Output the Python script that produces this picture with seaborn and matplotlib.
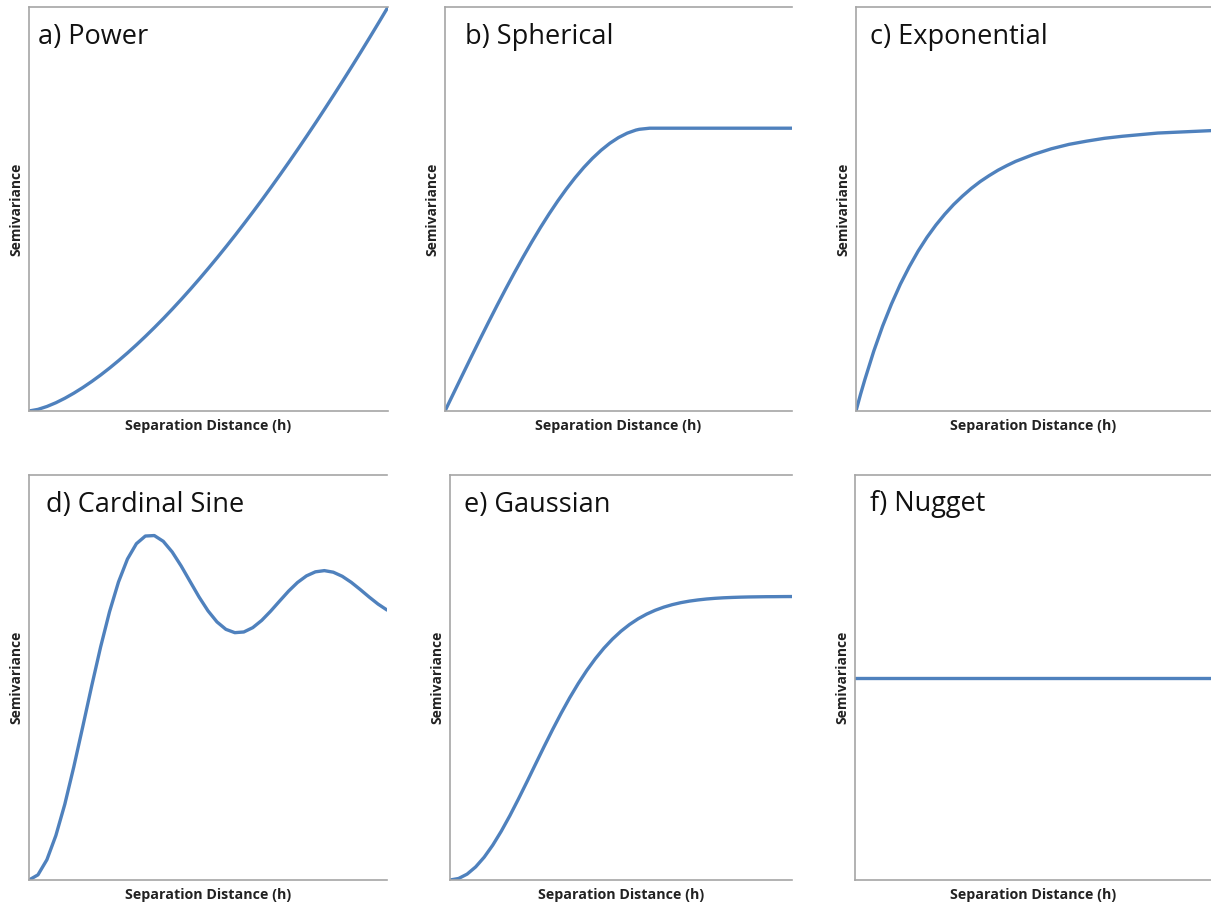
import numpy as np
import pandas as pd
import seaborn as sns
import matplotlib.pyplot as plt

sns.set_theme(style="white")
plt.rcParams['font.family'] = ['Open Sans', 'DejaVu Sans']

# ---------------- data (normalised distance / semivariance) ----------------
panel_titles = ["a) Power", "b) Spherical", "c) Exponential",
                "d) Cardinal Sine", "e) Gaussian", "f) Nugget"]
x_label = "Separation Distance (h)"
y_label = "Semivariance"

dist_40 = [0.000, 0.025, 0.050, 0.075, 0.100, 0.125, 0.150, 0.175, 0.200, 0.225,
           0.250, 0.275, 0.300, 0.325, 0.350, 0.375, 0.400, 0.425, 0.450, 0.475,
           0.500, 0.525, 0.550, 0.575, 0.600, 0.625, 0.650, 0.675, 0.700, 0.725,
           0.750, 0.775, 0.800, 0.825, 0.850, 0.875, 0.900, 0.925, 0.950, 0.975, 1.000]

power = [0.0000, 0.0040, 0.0112, 0.0205, 0.0316, 0.0442, 0.0581, 0.0732, 0.0894, 0.1067,
         0.1250, 0.1442, 0.1643, 0.1853, 0.2071, 0.2296, 0.2530, 0.2771, 0.3019, 0.3274,
         0.3536, 0.3804, 0.4079, 0.4360, 0.4648, 0.4941, 0.5240, 0.5546, 0.5857, 0.6173,
         0.6495, 0.6823, 0.7155, 0.7494, 0.7837, 0.8185, 0.8538, 0.8896, 0.9259, 0.9627, 1.0000]

spherical_dist = [0.000, 0.025, 0.050, 0.075, 0.100, 0.125, 0.150, 0.175, 0.200, 0.225,
                  0.250, 0.275, 0.300, 0.325, 0.350, 0.375, 0.400, 0.425, 0.450, 0.475,
                  0.500, 0.525, 0.550, 0.560, 0.590, 0.650, 0.700, 0.800, 0.900, 1.000]
spherical = [0.0000, 0.0445, 0.0888, 0.1328, 0.1763, 0.2191, 0.2612, 0.3023, 0.3423, 0.3810,
             0.4183, 0.4540, 0.4879, 0.5199, 0.5498, 0.5775, 0.6028, 0.6255, 0.6455, 0.6627,
             0.6768, 0.6877, 0.6953, 0.6973, 0.7000, 0.7000, 0.7000, 0.7000, 0.7000, 0.7000]

exponential_dist = [0.000, 0.0125, 0.025, 0.050, 0.075, 0.100, 0.125, 0.150, 0.175, 0.200,
                    0.225, 0.250, 0.275, 0.300, 0.325, 0.350, 0.375, 0.400, 0.425, 0.450,
                    0.500, 0.550, 0.600, 0.650, 0.700, 0.750, 0.800, 0.850, 0.900, 0.950, 1.000]
exponential = [0.0000, 0.0405, 0.0780, 0.1480, 0.2102, 0.2650, 0.3140, 0.3570, 0.3958, 0.4300,
               0.4602, 0.4870, 0.5110, 0.5320, 0.5511, 0.5680, 0.5826, 0.5960, 0.6075, 0.6180,
               0.6350, 0.6490, 0.6600, 0.6680, 0.6750, 0.6800, 0.6840, 0.6880, 0.6900, 0.6920, 0.6940]

cardinal_sine = [0.0000, 0.0127, 0.0501, 0.1097, 0.1870, 0.2789, 0.3779, 0.4787, 0.5753, 0.6625,
                 0.7359, 0.7925, 0.8304, 0.8493, 0.8505, 0.8363, 0.8099, 0.7754, 0.7370, 0.6988,
                 0.6646, 0.6373, 0.6189, 0.6107, 0.6124, 0.6231, 0.6410, 0.6638, 0.6887, 0.7132,
                 0.7346, 0.7509, 0.7609, 0.7639, 0.7600, 0.7499, 0.7351, 0.7174, 0.6988, 0.6813,
                 0.6666]

gaussian = [0.0000, 0.0037, 0.0145, 0.0323, 0.0564, 0.0861, 0.1206, 0.1588, 0.1999, 0.2425,
            0.2860, 0.3292, 0.3714, 0.4118, 0.4499, 0.4852, 0.5175, 0.5465, 0.5723, 0.5948,
            0.6143, 0.6309, 0.6449, 0.6565, 0.6660, 0.6737, 0.6799, 0.6848, 0.6886, 0.6915,
            0.6938, 0.6955, 0.6968, 0.6977, 0.6984, 0.6989, 0.6992, 0.6995, 0.6996, 0.6998, 0.6999]

nugget_dist = [0.0, 1.0]
nugget = [0.5, 0.5]

series = [
    (dist_40, power),
    (spherical_dist, spherical),
    (exponential_dist, exponential),
    (dist_40, cardinal_sine),
    (dist_40, gaussian),
    (nugget_dist, nugget),
]

# ---------------- layout (pixels of a 1211x907 figure) ----------------
W, H = 1211, 907
boxes = [  # left, top, right, bottom
    (29, 7, 388, 411),
    (445, 7, 792, 411),
    (856, 7, 1211, 411),
    (29, 475, 387, 880),
    (450, 475, 792, 880),
    (855, 475, 1211, 880),
]
title_dx = [9, 20, 14, 17, 14, 15]

line_color = "#4F81BD"
spine_color = "#A6A6A6"

fig = plt.figure(figsize=(W / 100, H / 100), dpi=100)
fig.patch.set_facecolor("white")

for i, ((l, t, r, b), (xs, ys)) in enumerate(zip(boxes, series)):
    ax = fig.add_axes([l / W, 1 - b / H, (r - l) / W, (b - t) / H])
    df = pd.DataFrame({"distance": xs, "semivariance": ys})
    sns.lineplot(data=df, x="distance", y="semivariance", ax=ax,
                 color=line_color, linewidth=2.4, sort=False,
                 solid_joinstyle="round", solid_capstyle="round")
    ax.set_xlim(0, 1)
    ax.set_ylim(0, 1)
    ax.set_xticks([])
    ax.set_yticks([])
    for side in ["left", "top", "bottom"]:
        ax.spines[side].set_visible(True)
        ax.spines[side].set_color(spine_color)
        ax.spines[side].set_linewidth(1.2)
    ax.spines["right"].set_visible(False)
    ax.set_facecolor("white")

    w_px = r - l
    h_px = b - t
    ax.set_xlabel(x_label, fontsize=10.3, fontweight="bold", color="#222222")
    ax.xaxis.set_label_coords(0.5, -8 / h_px)
    ax.set_ylabel(y_label, fontsize=10, fontweight="bold", color="#222222")
    ax.yaxis.set_label_coords(-6 / w_px, 0.5)

    ax.annotate(panel_titles[i], xy=(0, 1), xycoords="axes fraction",
                xytext=(title_dx[i] * 0.72, -36.5 * 0.72), textcoords="offset points",
                ha="left", va="baseline", fontsize=19.5, color="#111111")

fig.savefig("out.png", dpi=100, facecolor="white")
